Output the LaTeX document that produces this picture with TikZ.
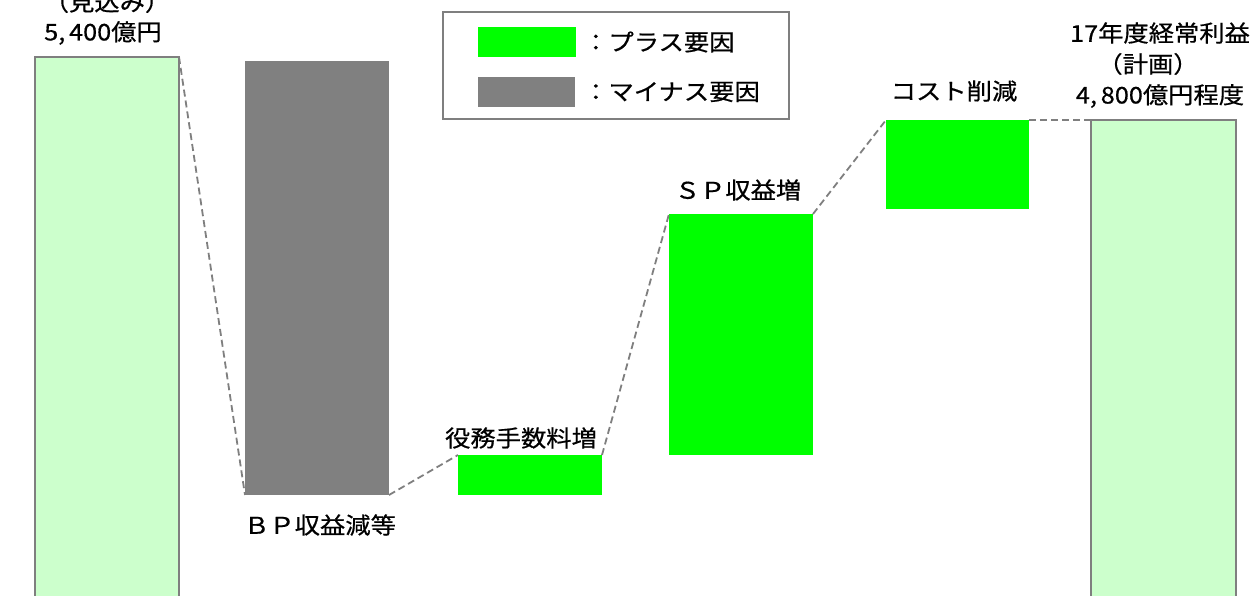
\documentclass[tikz,border=0pt]{standalone}
\usepackage{fontspec}
\newfontfamily\jp[FakeStretch=1.1,FakeBold=0.6]{Noto Sans CJK JP}
\definecolor{plusg}{HTML}{00FF00}
\definecolor{lightg}{HTML}{CCFFCC}
\definecolor{minusg}{HTML}{808080}
\definecolor{edgeg}{HTML}{7F7F7F}
\begin{document}
\begin{tikzpicture}[x=1pt,y=-1pt,
  bar/.style={rectangle,inner sep=0pt,outer sep=0pt,minimum width=144pt},
  endbar/.style={bar,fill=lightg,draw=edgeg,line width=1.5pt},
  plusbar/.style={bar,fill=plusg},
  minusbar/.style={bar,fill=minusg},
  link/.style={draw=edgeg,line width=1.8pt,dash pattern=on 7pt off 4pt},
  lbl/.style={font=\jp\fontsize{23}{27}\selectfont,inner sep=0pt,text=black},
]
\useasboundingbox (0,0) rectangle (1256,596);
% bars
\node[endbar,minimum height=543pt] (start) at (107,328.5) {};
\node[minusbar,minimum height=434pt] (bp) at (317,278) {};
\node[plusbar,minimum height=40pt] (fee) at (530,475) {};
\node[plusbar,minimum height=241pt] (sp) at (741,334.5) {};
\node[plusbar,minimum height=89pt,minimum width=143pt] (cost) at (957.5,164.5) {};
\node[endbar,minimum height=480pt,minimum width=145pt] (goal) at (1163.5,360) {};
% connectors
\draw[link] (start.north east) -- (bp.south west);
\draw[link] (bp.south east) -- (fee.north west);
\draw[link] (fee.north east) -- (sp.north west);
\draw[link] (sp.north east) -- (cost.north west);
\draw[link] (cost.north east) -- (goal.north west);
% labels
\node[lbl] (l1) at (107,2) {（見込み）};
\node[lbl] (l2) at (103,33) {5,\,400億円};
\node[lbl] (lbp) at (320,525) {ＢＰ収益減等};
\node[lbl] (lfee) at (521,438) {役務手数料増};
\node[lbl] (lsp) at (738,190) {ＳＰ収益増};
\node[lbl] (lcost) at (954,91) {コスト削減};
\node[lbl] (r1) at (1160,33) {17年度経常利益};
\node[lbl] (r2) at (1148,64) {（計画）};
\node[lbl] (r3) at (1160,96) {4,\,800億円程度};
% legend
\node[rectangle,draw=edgeg,line width=1.5pt,minimum width=346pt,minimum height=107pt,inner sep=0pt] (legend) at (616,65.5) {};
\node[rectangle,fill=plusg,minimum width=98pt,minimum height=30pt,inner sep=0pt] (swp) at (527,42) {};
\node[rectangle,fill=minusg,minimum width=97pt,minimum height=30pt,inner sep=0pt] (swm) at (526.5,92) {};
\node[lbl,anchor=west] (tp) at (583,42) {：プラス要因};
\node[lbl,anchor=west] (tm) at (583,92) {：マイナス要因};
\end{tikzpicture}
\end{document}
